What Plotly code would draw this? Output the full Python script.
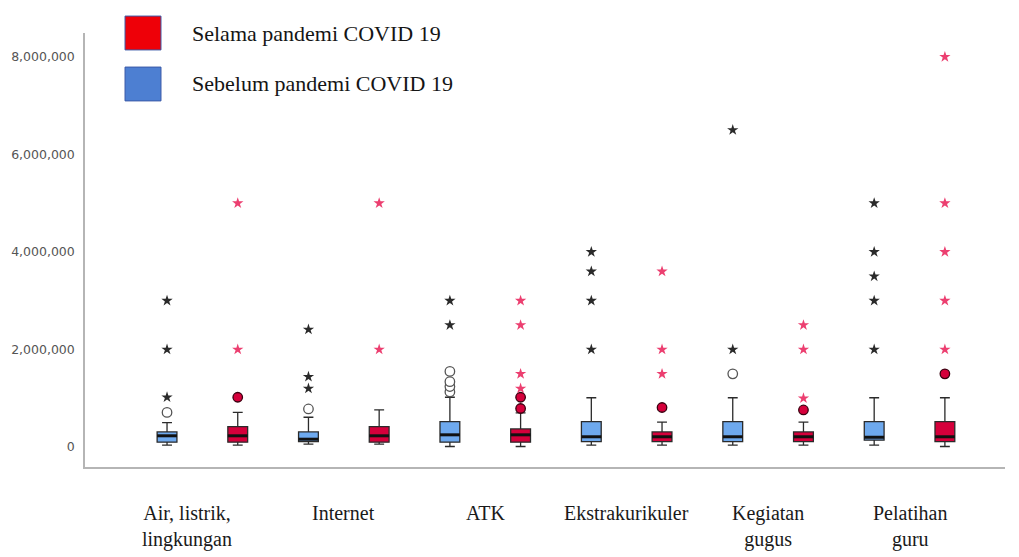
import plotly.graph_objects as go

categories = ["Air, listrik,<br>lingkungan", "Internet", "ATK", "Ekstrakurikuler", "Kegiatan<br>gugus", "Pelatihan<br>guru"]
series_names = ["Selama pandemi COVID 19", "Sebelum pandemi COVID 19"]

# Sebelum pandemi (blue)
before_q1 = [100000, 110000, 100000, 110000, 110000, 140000]
before_med = [230000, 160000, 250000, 210000, 210000, 200000]
before_q3 = [310000, 310000, 520000, 520000, 520000, 520000]
before_lo = [40000, 60000, 10000, 40000, 40000, 40000]
before_hi = [500000, 610000, 1020000, 1010000, 1010000, 1010000]
before_circles = [[710000], [780000], [1130000, 1240000, 1340000, 1550000], [], [1500000], []]
before_stars = [[1020000, 2000000, 3000000], [1200000, 1440000, 2410000], [2500000, 3000000],
                [2000000, 3000000, 3600000, 4000000], [2000000, 6500000],
                [2000000, 3000000, 3500000, 4000000, 5000000]]

# Selama pandemi (red)
during_q1 = [100000, 100000, 100000, 110000, 110000, 110000]
during_med = [230000, 230000, 250000, 210000, 210000, 210000]
during_q3 = [420000, 420000, 370000, 310000, 310000, 520000]
during_lo = [40000, 60000, 10000, 40000, 40000, 10000]
during_hi = [710000, 760000, 700000, 510000, 510000, 1010000]
during_circles = [[1020000], [], [790000, 1020000], [810000], [760000], [1500000]]
during_stars = [[2000000, 5000000], [2000000, 5000000], [1200000, 1500000, 2500000, 3000000],
                [1500000, 2000000, 3600000], [1000000, 2000000, 2500000],
                [2000000, 3000000, 4000000, 5000000, 8000000]]

y_ticks = [0, 2000000, 4000000, 6000000, 8000000]

BOX_W = 0.28
n = len(categories)
x_before = [2 * i for i in range(n)]
x_during = [2 * i + 1 for i in range(n)]

BLUE_FILL = "#6ea9ee"
RED_FILL = "#d5003b"

fig = go.Figure()


def add_group(xs, q1, med, q3, lo, hi, circles, stars, fill, star_color, circ_fill, circ_line):
    fig.add_trace(go.Box(
        x=xs, q1=q1, median=med, q3=q3, lowerfence=lo, upperfence=hi,
        width=BOX_W, whiskerwidth=0.5, fillcolor=fill,
        line=dict(color="#2b2b2b", width=1.3), boxpoints=False,
        showlegend=False, hoverinfo="skip"))
    # thick median lines
    mx, my = [], []
    for x, m in zip(xs, med):
        mx += [x - BOX_W / 2, x + BOX_W / 2, None]
        my += [m, m, None]
    fig.add_trace(go.Scatter(x=mx, y=my, mode="lines",
                             line=dict(color="#111111", width=3),
                             showlegend=False, hoverinfo="skip"))
    cx, cy, sx, sy = [], [], [], []
    for x, c, s in zip(xs, circles, stars):
        cx += [x] * len(c)
        cy += c
        sx += [x] * len(s)
        sy += s
    fig.add_trace(go.Scatter(x=cx, y=cy, mode="markers",
                             marker=dict(symbol="circle", size=9.5, color=circ_fill,
                                         line=dict(color=circ_line, width=1.3)),
                             showlegend=False, hoverinfo="skip"))
    fig.add_trace(go.Scatter(x=sx, y=sy, mode="markers",
                             marker=dict(symbol="star", size=8.5, color=star_color,
                                         line=dict(width=0)),
                             showlegend=False, hoverinfo="skip"))


add_group(x_before, before_q1, before_med, before_q3, before_lo, before_hi,
          before_circles, before_stars, BLUE_FILL, "#2a2a2a", "white", "#555555")
add_group(x_during, during_q1, during_med, during_q3, during_lo, during_hi,
          during_circles, during_stars, RED_FILL, "#ec3f70", "#d5003b", "#3a0010")

# category labels
for i, cat in enumerate(categories):
    fig.add_annotation(x=2 * i + 0.5, xref="x", y=-0.075, yref="paper",
                       text=cat, showarrow=False, yanchor="top", xanchor="center",
                       xshift=-15 if i == 0 else 0,
                       font=dict(family="Liberation Serif", size=20, color="#1a1a1a"))

# legend
legend_colors = ["#ee0008", "#4d7fd2"]
legend_y = [1.0, 0.8825]
for name, col, ly in zip(series_names, legend_colors, legend_y):
    fig.add_shape(type="rect", xref="paper", yref="paper",
                  x0=0.0435, x1=0.0826, y0=ly - 0.039, y1=ly + 0.039,
                  fillcolor=col, line=dict(color="#3b5aa8", width=1))
    fig.add_annotation(x=0.114, xref="paper", y=ly, yref="paper", text=name,
                       showarrow=False, xanchor="left", yanchor="middle",
                       font=dict(family="Liberation Serif", size=22, color="#151515"))

fig.update_layout(
    width=1019, height=557,
    margin=dict(l=85, r=14, t=33, b=90),
    paper_bgcolor="white", plot_bgcolor="white",
    showlegend=False,
    xaxis=dict(range=[-1.16, 11.85], showticklabels=False, showgrid=False,
               zeroline=False, showline=True, linecolor="#b5b5b5", linewidth=1.5,
               ticks=""),
    yaxis=dict(range=[-410000, 8490000], tickvals=y_ticks, tickformat=",d",
               showgrid=False, zeroline=False, showline=True, linecolor="#b5b5b5",
               linewidth=1.5, ticks="outside", ticklen=6, tickcolor="rgba(0,0,0,0)",
               tickfont=dict(family="DejaVu Sans", size=12.5, color="#555555")),
)

fig.write_html("out.html")
